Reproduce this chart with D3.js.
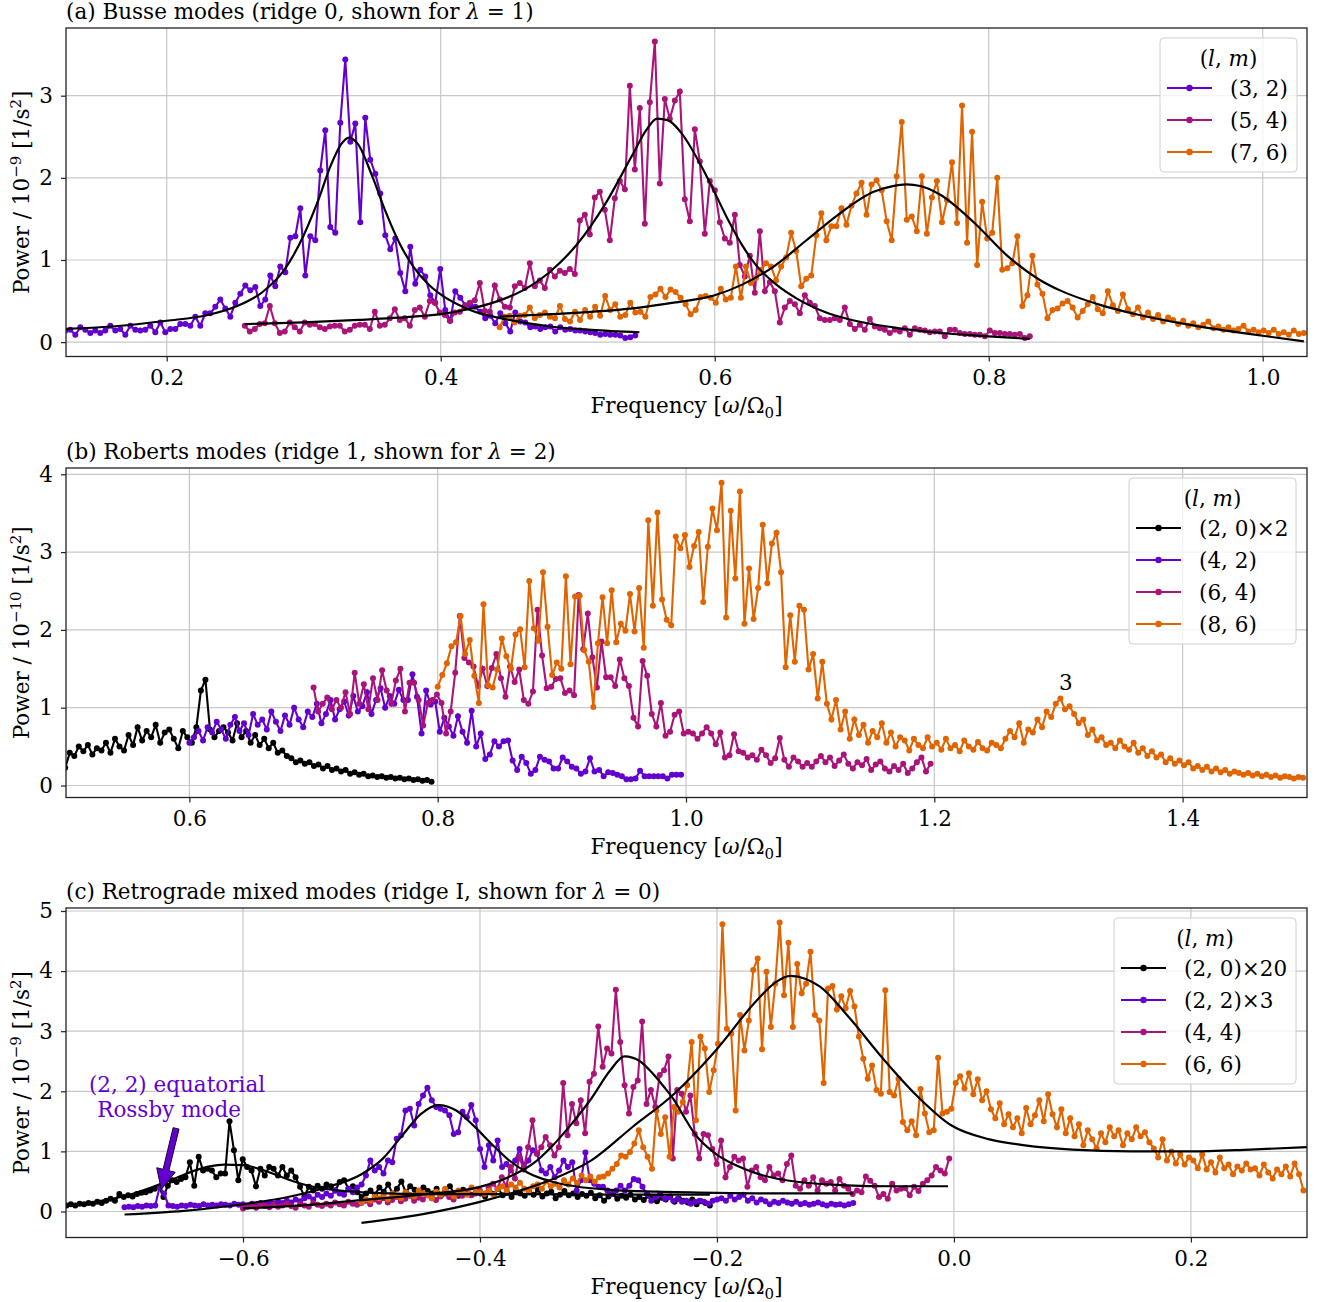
<!DOCTYPE html>
<html lang="en">
<head>
<meta charset="UTF-8">
<title>Mode power spectra</title>
<script src="https://d3js.org/d3.v7.min.js"></script>
<style>
  body { margin: 0; background: #fff; }
  svg { font-family: "DejaVu Serif", serif; }
  .mi { font-style: italic; }
</style>
</head>
<body>
<svg width="1323" height="1302"></svg>
<script>
const colPurple = "#6300cf", colMagenta = "#aa1479", colOrange = "#e06400", colBlack = "#000000";
const fs = 21.5, fsSmall = 15;

// ---------- panel (a) Busse modes ----------
const ticksXA = [0.2, 0.4, 0.6, 0.8, 1.0];
const ticksYA = [0, 1, 2, 3];
const rangeA32 = [0.126, 0.542];
const powA32 = [0.14,0.15,0.09,0.18,0.15,0.11,0.14,0.11,0.14,0.20,0.14,0.16,0.09,0.20,0.15,0.14,0.15,0.20,0.12,0.24,
  0.12,0.16,0.16,0.22,0.22,0.20,0.31,0.20,0.35,0.35,0.43,0.52,0.41,0.31,0.48,0.59,0.69,0.63,0.67,0.44,
  0.52,0.81,0.68,0.92,0.85,1.27,1.29,1.63,0.81,1.29,1.24,2.09,2.58,1.40,1.33,2.67,3.44,2.44,2.66,1.46,
  2.73,2.22,2.05,1.81,1.30,1.13,1.26,0.84,0.62,1.16,0.71,0.88,0.80,0.57,0.48,0.89,0.39,0.26,0.62,0.54,
  0.45,0.45,0.43,0.37,0.29,0.32,0.23,0.35,0.23,0.13,0.36,0.25,0.24,0.18,0.19,0.16,0.18,0.19,0.13,0.18,
  0.15,0.16,0.14,0.14,0.13,0.12,0.11,0.09,0.10,0.09,0.09,0.08,0.05,0.06,0.08];
const rangeA54 = [0.257, 0.830];
const powA54 = [0.20,0.13,0.16,0.22,0.23,0.44,0.23,0.11,0.13,0.24,0.18,0.13,0.24,0.21,0.22,0.18,0.16,0.19,0.20,0.20,
  0.13,0.15,0.20,0.21,0.21,0.16,0.37,0.20,0.21,0.29,0.40,0.27,0.29,0.20,0.39,0.42,0.31,0.50,0.48,0.36,
  0.33,0.26,0.36,0.37,0.44,0.48,0.51,0.72,
  0.38,0.37,0.69,0.52,0.43,0.42,0.68,0.72,0.66,0.96,0.68,0.75,0.66,0.88,0.80,0.87,0.84,0.89,0.83,1.48,
  1.55,1.31,1.76,1.83,1.61,1.24,1.75,1.96,1.86,3.12,2.10,2.85,1.44,2.92,3.66,1.93,2.96,2.72,2.94,3.05,
  1.74,1.47,2.59,2.20,1.32,1.96,1.85,1.46,1.26,1.21,1.55,0.94,0.80,1.05,0.60,1.35,0.62,0.73,0.62,0.24,
  0.42,0.50,0.46,0.35,0.57,0.48,0.44,0.29,0.27,0.27,0.29,0.27,0.42,0.22,0.16,0.21,
  0.15,0.28,0.19,0.17,0.15,0.11,0.15,0.13,0.17,0.09,0.17,0.15,0.14,0.12,0.13,0.13,0.07,0.15,0.15,0.11,
  0.10,0.10,0.09,0.09,0.07,0.14,0.11,0.11,0.10,0.10,0.09,0.10,0.05,0.07];
const rangeA76 = [0.443, 1.030];
const powA76 = [0.18,0.31,0.32,0.24,0.32,0.33,0.42,0.29,0.33,0.36,0.31,0.29,0.44,0.28,0.25,0.37,0.27,0.39,0.31,0.43,
  0.32,0.56,0.39,0.46,0.31,0.33,0.48,0.36,0.37,0.31,0.55,0.58,0.65,0.55,0.64,0.61,0.54,0.46,0.34,0.39,
  0.55,0.56,0.54,0.48,0.65,0.52,0.54,0.92,0.54,0.92,0.72,0.78,0.88,0.96,0.92,0.75,0.92,1.03,1.33,1.11,
  0.68,0.77,0.81,1.30,1.57,1.24,1.41,1.41,1.63,1.43,1.66,1.81,1.94,
  1.55,1.92,1.97,1.85,1.47,1.24,2.02,2.68,1.49,1.53,1.35,2.02,1.32,1.76,1.96,1.46,1.73,2.19,1.45,2.88,
  1.21,2.56,0.94,1.71,1.26,1.33,2.00,0.88,0.90,0.96,1.29,0.44,0.57,1.05,0.70,0.59,0.29,0.39,0.41,0.47,
  0.50,0.42,0.30,0.38,0.46,0.55,0.40,0.35,0.62,0.45,0.38,0.58,0.40,0.34,0.42,0.30,0.36,0.28,0.33,0.25,
  0.30,0.27,0.22,0.26,0.20,0.23,0.18,0.21,0.25,0.17,0.19,0.15,0.18,0.14,0.16,0.20,0.13,0.15,0.12,0.14,
  0.11,0.15,0.10,0.12,0.09,0.14,0.10,0.11];
const fitA32 = [[0.126,0.16],[0.16,0.19],[0.20,0.26],[0.23,0.33],[0.25,0.43],[0.27,0.61],[0.285,0.86],[0.30,1.30],
  [0.31,1.70],[0.32,2.16],[0.327,2.40],[0.333,2.49],[0.34,2.40],[0.35,2.02],[0.36,1.58],[0.37,1.20],[0.38,0.92],
  [0.39,0.72],[0.40,0.58],[0.42,0.40],[0.45,0.27],[0.48,0.19],[0.51,0.15],[0.545,0.12]];
const fitA54 = [[0.257,0.22],[0.30,0.24],[0.34,0.27],[0.38,0.31],[0.40,0.34],[0.42,0.40],[0.44,0.49],[0.46,0.63],
  [0.48,0.86],[0.50,1.20],[0.52,1.68],[0.54,2.28],[0.55,2.58],[0.558,2.72],[0.566,2.70],[0.575,2.56],[0.59,2.15],
  [0.60,1.82],[0.61,1.48],[0.62,1.18],[0.63,0.94],[0.645,0.70],[0.66,0.53],[0.68,0.37],[0.70,0.27],[0.73,0.18],
  [0.76,0.12],[0.80,0.07],[0.83,0.04]];
const fitA76 = [[0.443,0.31],[0.48,0.34],[0.52,0.38],[0.545,0.42],[0.57,0.48],[0.60,0.57],[0.62,0.70],[0.643,0.92],
  [0.667,1.24],[0.69,1.55],[0.716,1.83],[0.73,1.90],[0.74,1.92],[0.75,1.90],[0.764,1.80],[0.789,1.46],[0.813,1.06],
  [0.837,0.76],[0.852,0.63],[0.88,0.46],[0.91,0.33],[0.95,0.20],[0.99,0.10],[1.03,0.01]];

// ---------- panel (b) Roberts modes ----------
const ticksXB = [0.6, 0.8, 1.0, 1.2, 1.4];
const ticksYB = [0, 1, 2, 3, 4];
const rangeB20 = [0.500, 0.795];
const powB20 = [0.23,0.42,0.38,0.50,0.44,0.52,0.40,0.48,0.45,0.55,0.42,0.60,0.50,0.45,
  0.65,0.52,0.75,0.58,0.70,0.62,0.78,0.55,0.68,0.72,0.60,0.48,0.70,0.62,
  0.55,0.75,1.22,1.36,0.72,0.62,0.70,0.75,0.68,0.58,0.80,0.62,0.70,0.55,
  0.65,0.52,0.60,0.48,0.55,0.42,0.45,0.38,0.35,0.30,0.32,0.28,0.30,0.25,
  0.27,0.22,0.25,0.20,0.22,0.18,0.20,0.15,0.17,0.14,0.15,0.12,0.13,0.11,
  0.12,0.10,0.11,0.09,0.10,0.08,0.09,0.07,0.08,0.06,0.07,0.05];
const rangeB42 = [0.600, 0.996];
const powB42 = [0.55,0.62,0.70,0.58,0.75,0.68,0.82,0.72,0.60,0.78,0.88,0.70,0.80,0.65,0.92,0.78,0.85,0.72,0.95,0.82,
  0.70,0.90,0.78,1.00,0.85,0.75,0.95,0.88,1.05,0.80,0.92,1.10,0.85,0.98,1.08,0.90,1.15,0.95,1.02,1.20,
  0.92,1.10,1.25,1.00,1.15,1.05,
  1.23,1.10,1.10,1.43,1.14,0.67,1.22,1.04,1.08,0.69,0.87,0.76,0.64,0.89,0.69,0.55,0.96,0.50,0.67,0.34,
  0.40,0.57,0.50,0.57,0.58,0.32,0.20,0.37,0.29,0.15,0.20,0.37,0.33,0.31,0.22,0.22,0.36,0.31,0.24,0.22,
  0.15,0.18,0.35,0.18,0.20,0.12,0.17,0.16,0.14,0.12,0.08,0.08,0.09,0.19,0.12,0.12,0.12,0.12,0.12,0.09,
  0.14,0.14,0.14];
const rangeB64 = [0.700, 1.197];
const powB64 = [1.26,0.95,1.05,1.13,0.98,1.10,1.00,1.20,0.92,1.45,1.05,1.30,0.98,1.38,1.10,1.48,1.22,1.05,1.35,
  1.50,0.95,1.32,1.32,1.10,0.77,1.06,1.10,
  1.17,1.06,0.67,0.95,1.45,2.18,1.64,1.58,1.53,1.28,1.50,1.28,1.51,1.69,1.38,1.14,1.53,1.33,1.49,1.10,
  1.05,1.21,2.26,1.67,1.25,1.27,1.37,1.38,1.19,1.22,1.16,2.45,1.75,2.21,1.65,1.26,1.85,1.39,1.39,1.28,
  1.62,1.38,1.28,0.87,0.76,1.60,1.41,0.92,0.76,1.06,0.64,0.69,0.91,0.95,0.67,0.69,0.67,0.60,0.67,0.75,
  0.67,0.53,0.68,0.36,0.39,0.66,0.44,0.42,0.36,0.39,0.33,0.46,0.39,0.29,0.35,0.61,0.33,0.24,0.36,0.31,
  0.24,0.29,0.24,0.31,0.38,
  0.30,0.36,0.25,0.32,0.40,0.28,0.22,0.30,0.26,0.34,0.20,0.27,0.31,0.22,0.18,0.25,0.20,0.28,0.16,0.22,
  0.30,0.36,0.18,0.28];
const rangeB86 = [0.800, 1.497];
const powB86 = [1.27,1.42,1.57,1.79,1.84,2.18,1.69,1.87,1.41,1.06,2.33,1.29,1.26,1.49,1.89,1.66,1.50,1.94,2.01,1.52,
  2.63,2.02,1.86,2.74,2.04,1.42,1.58,1.50,2.69,1.56,2.43,2.44,1.74,1.59,1.01,1.83,2.42,1.83,2.51,1.84,
  2.08,1.99,2.46,1.98,2.54,1.77,3.41,2.31,3.51,2.39,2.13,2.06,3.20,3.05,3.22,2.81,3.08,3.26,2.36,3.07,
  3.56,3.28,3.89,2.16,3.53,2.66,3.78,2.08,2.79,2.14,2.54,3.35,2.60,3.11,3.25,2.74,1.52,2.19,1.59,2.31,
  2.26,1.49,1.69,1.12,1.59,
  1.05,0.85,1.10,0.72,0.95,0.60,0.85,0.65,0.78,0.55,0.70,
  0.62,0.80,0.55,0.68,0.50,0.62,0.58,0.45,0.60,0.52,0.48,0.62,0.50,
  0.55,0.46,0.60,0.48,0.52,0.44,0.58,0.50,0.46,0.56,0.48,0.45,0.55,
  0.52,0.48,0.60,0.70,0.62,0.80,0.55,0.72,0.68,0.85,0.75,0.95,0.88,1.05,
  1.12,0.98,1.02,0.92,0.80,0.85,0.65,0.72,0.58,0.62,0.52,0.55,0.48,
  0.58,0.50,0.46,0.55,0.42,0.48,0.38,0.44,0.36,0.40,0.30,0.35,0.28,0.32,
  0.26,0.30,0.22,0.25,0.20,0.24,0.18,0.22,0.17,0.20,0.15,0.18,0.16,0.14,
  0.16,0.13,0.15,0.12,0.14,0.11,0.13,0.10,0.12,0.11,0.09,0.11,0.10];

// ---------- panel (c) retrograde mixed modes ----------
const ticksXC = [-0.6, -0.4, -0.2, 0.0, 0.2];
const ticksYC = [0, 1, 2, 3, 4, 5];
const rangeC20 = [-0.749, -0.206];
const powC20 = [0.10,0.12,0.10,0.13,0.12,0.14,0.13,0.16,0.14,0.18,0.21,0.18,0.29,0.24,0.27,0.25,0.29,0.31,0.32,0.35,
  0.38,0.41,0.24,0.43,0.52,0.49,0.54,0.57,0.82,0.43,0.91,0.68,0.71,0.68,0.57,0.63,0.63,1.50,1.02,0.52,
  0.87,0.74,0.68,0.42,0.71,0.60,0.74,0.71,0.60,0.74,0.60,0.68,0.57,0.41,0.25,0.41,0.35,0.43,0.38,0.45,
  0.42,0.35,0.49,0.52,0.38,0.42,0.32,0.24,
  0.30,0.35,0.28,0.40,0.33,0.45,0.30,0.38,0.50,0.32,0.42,0.36,0.28,0.40,0.34,0.30,0.38,0.27,0.35,0.42,
  0.30,0.26,0.36,0.32,0.28,0.35,0.30,0.25,0.33,0.29,0.38,0.27,0.31,0.24,0.34,0.30,0.26,0.32,0.28,0.36,
  0.25,0.30,0.33,0.22,0.28,0.34,0.27,0.30,0.24,0.29,0.26,0.31,0.22,0.27,0.18,0.25,0.29,0.21,0.26,0.23,
  0.28,0.20,0.24,0.19,0.26,0.22,0.17,0.23,0.20,0.25,0.16,0.21,0.18,0.15,0.20,0.12,0.17,0.14,0.10];
const rangeC22 = [-0.700, -0.085];
const powC22 = [0.07,0.08,0.07,0.09,0.08,0.10,0.09,0.10,0.41,0.30,0.10,0.09,0.08,0.10,0.09,0.11,0.10,0.09,0.12,0.10,
  0.11,0.10,0.12,0.11,0.10,0.13,0.11,
  0.12,0.10,0.13,0.11,0.14,0.12,0.15,0.13,0.16,0.14,0.18,0.15,0.20,0.17,0.22,0.25,0.20,0.28,0.24,0.30,
  0.26,0.35,0.30,0.28,0.38,0.32,0.40,
  0.45,0.60,0.85,0.68,0.74,0.63,0.85,0.82,1.21,1.27,1.68,1.71,1.43,1.79,1.93,2.06,1.85,1.74,1.71,1.68,
  1.60,1.29,1.32,1.66,1.57,1.77,1.52,
  1.04,0.74,1.10,0.85,1.18,0.74,0.79,0.68,0.85,1.04,0.74,0.85,1.02,0.96,0.68,0.63,0.74,0.57,0.68,0.85,
  0.74,0.82,0.35,0.52,0.98,0.52,0.46,
  0.41,0.41,0.35,0.29,0.35,0.43,0.35,0.43,0.54,0.52,0.41,0.29,0.18,0.24,0.29,0.21,0.24,0.18,0.21,0.16,
  0.18,0.13,0.16,0.18,0.16,0.13,0.18,
  0.20,0.22,0.18,0.26,0.20,0.24,0.28,0.18,0.22,0.15,0.20,0.17,0.12,0.16,0.14,0.18,0.15,0.13,0.16,0.12,
  0.14,0.11,0.13,0.15,0.12,0.10,0.13,0.11,0.12,0.10,0.12,0.14];
const rangeC44 = [-0.600, -0.004];
const powC44 = [0.05,0.08,0.10,0.06,0.12,0.09,0.07,0.11,0.08,0.10,0.13,0.09,0.06,0.12,0.10,0.08,0.14,0.11,0.09,0.13,
  0.10,0.15,0.12,0.10,0.16,0.13,0.11,
  0.14,0.18,0.12,0.20,0.16,0.22,0.15,0.19,0.24,0.17,0.21,0.26,0.18,0.23,0.20,0.27,0.22,0.19,0.25,0.30,
  0.24,0.20,0.28,0.26,0.32,0.27,0.30,
  0.35,0.29,0.40,0.46,0.38,0.57,0.41,0.74,0.55,0.91,0.70,1.07,1.52,0.96,1.07,1.24,1.10,0.93,1.07,2.14,
  1.27,1.79,1.47,1.85,1.30,2.16,2.29,
  3.08,2.41,2.71,2.63,3.69,2.82,2.10,1.63,2.07,2.18,3.16,1.79,2.02,1.74,2.27,2.35,2.58,0.88,2.02,1.96,
  1.66,1.93,1.29,0.88,1.29,1.27,1.04,
  0.79,1.18,0.57,0.74,0.91,0.85,0.88,0.41,0.68,0.74,0.57,0.52,0.74,0.60,0.63,0.52,0.79,0.93,0.43,0.38,
  0.52,0.43,0.57,0.35,0.52,0.46,0.49,
  0.35,0.54,0.43,0.38,0.29,0.35,0.32,0.58,0.51,0.43,0.24,0.29,0.21,0.46,0.35,0.38,0.39,0.27,0.41,0.34,
  0.46,0.52,0.60,0.74,0.68,0.63,0.88];
const rangeC66 = [-0.500, 0.295];
const powC66 = [0.15,0.20,0.18,0.25,0.22,0.28,0.20,0.30,0.25,0.22,0.32,0.28,0.25,0.35,0.30,0.27,0.22,0.33,0.28,0.38,
  0.30,0.25,0.35,0.32,0.28,0.40,0.33,
  0.32,0.30,0.35,0.28,0.38,0.42,0.35,0.45,0.40,0.48,0.38,0.33,0.42,0.45,0.38,0.50,0.42,0.46,0.40,0.52,
  0.45,0.55,0.48,0.60,0.52,0.58,0.50,
  0.57,0.58,0.63,0.71,0.79,0.93,0.91,0.99,1.13,1.35,1.07,0.91,0.71,1.68,1.29,1.57,0.91,1.74,1.66,1.82,
  2.10,2.82,1.52,2.91,2.71,1.99,2.35,
  2.79,4.78,3.04,2.96,1.68,3.27,2.68,3.18,4.02,4.21,2.70,3.99,3.07,3.79,4.81,3.60,4.47,3.07,4.12,3.63,
  3.79,4.32,3.27,3.18,2.14,3.71,3.75,
  3.36,3.58,3.38,3.67,3.41,2.91,2.54,2.21,2.43,2.02,1.96,3.68,1.99,1.93,2.21,1.49,1.35,1.50,1.27,2.04,
  1.63,1.32,1.35,2.56,1.63,1.66,1.71,
  2.14,2.25,2.05,2.30,1.95,2.20,1.85,2.00,1.70,1.55,1.80,1.45,1.62,1.40,
  1.55,1.30,1.72,1.45,1.60,1.85,1.50,1.95,1.62,1.40,1.70,1.30,1.55,
  1.25,1.45,1.10,1.35,1.20,1.05,1.30,1.15,1.40,1.25,1.35,1.10,1.30,1.20,
  1.40,1.25,1.32,1.15,1.05,0.90,1.20,0.85,1.00,0.80,0.95,0.78,0.90,
  0.85,0.72,0.95,0.70,0.82,0.65,0.90,0.72,0.78,0.62,0.75,0.68,0.80,0.70,
  0.72,0.60,0.78,0.65,0.55,0.70,0.62,0.75,0.58,0.80,0.62,0.35];
const fitC20 = [[-0.749,0.09],[-0.725,0.16],[-0.697,0.27],[-0.669,0.46],[-0.655,0.57],[-0.641,0.68],[-0.628,0.75],
  [-0.616,0.78],[-0.60,0.77],[-0.585,0.70],[-0.571,0.60],[-0.557,0.50],[-0.543,0.42],[-0.52,0.35],[-0.49,0.31],
  [-0.44,0.29],[-0.36,0.29],[-0.28,0.28],[-0.206,0.28]];
const fitC22 = [[-0.70,-0.05],[-0.65,0.01],[-0.60,0.12],[-0.56,0.25],[-0.53,0.40],[-0.50,0.62],[-0.482,0.88],
  [-0.465,1.28],[-0.45,1.62],[-0.435,1.77],[-0.42,1.68],[-0.405,1.42],[-0.39,1.12],[-0.376,0.86],[-0.36,0.65],
  [-0.34,0.50],[-0.32,0.42],[-0.29,0.36],[-0.25,0.33],[-0.20,0.31],[-0.15,0.30],[-0.085,0.30]];
const fitC44 = [[-0.60,0.05],[-0.55,0.10],[-0.50,0.19],[-0.45,0.28],[-0.40,0.41],[-0.376,0.57],[-0.355,0.80],
  [-0.34,1.07],[-0.323,1.45],[-0.306,1.88],[-0.29,2.35],[-0.278,2.58],[-0.265,2.50],[-0.254,2.29],[-0.245,2.08],
  [-0.236,1.85],[-0.227,1.55],[-0.219,1.30],[-0.201,0.96],[-0.183,0.76],[-0.166,0.63],[-0.131,0.49],[-0.096,0.44],
  [-0.05,0.42],[-0.005,0.42]];
const fitC66 = [[-0.50,-0.19],[-0.447,-0.04],[-0.40,0.16],[-0.376,0.29],[-0.341,0.52],[-0.306,0.85],[-0.271,1.41],
  [-0.236,1.96],[-0.201,2.68],[-0.166,3.52],[-0.15,3.82],[-0.138,3.92],[-0.125,3.87],[-0.113,3.74],[-0.089,3.24],
  [-0.061,2.57],[-0.033,1.96],[-0.002,1.43],[0.03,1.20],[0.06,1.10],[0.10,1.03],[0.15,1.00],[0.20,1.00],
  [0.25,1.03],[0.298,1.07]];

const svg = d3.select("svg");
const left = 66, right = 1307;

// turn a value list + frequency range into [f, p] points
function points(range, vals) {
  const step = (range[1] - range[0]) / (vals.length - 1);
  return vals.map((v, i) => [range[0] + i * step, v]);
}

function drawPanel(p) {
  const x = d3.scaleLinear().domain(p.xDomain).range([left, right]);
  const y = d3.scaleLinear().domain(p.yDomain).range([p.bottom, p.top]);
  const g = svg.append("g");

  svg.append("clipPath").attr("id", "clip" + p.id)
    .append("rect").attr("x", left).attr("y", p.top)
    .attr("width", right - left).attr("height", p.bottom - p.top);

  // grid
  g.append("g").selectAll("line").data(p.xTicks).join("line")
    .attr("x1", d => x(d)).attr("x2", d => x(d))
    .attr("y1", p.top).attr("y2", p.bottom)
    .attr("stroke", "#c8c8c8").attr("stroke-width", 1.2);
  g.append("g").selectAll("line").data(p.yTicks).join("line")
    .attr("x1", left).attr("x2", right)
    .attr("y1", d => y(d)).attr("y2", d => y(d))
    .attr("stroke", "#c8c8c8").attr("stroke-width", 1.2);

  const plot = g.append("g").attr("clip-path", `url(#clip${p.id})`);
  const line = d3.line().x(d => x(d[0])).y(d => y(d[1]));
  const smooth = d3.line().curve(d3.curveMonotoneX).x(d => x(d[0])).y(d => y(d[1]));

  p.series.forEach(s => {
    const pts = points(s.range, s.values);
    plot.append("path").datum(pts).attr("d", line)
      .attr("fill", "none").attr("stroke", s.color).attr("stroke-width", 2.1);
    plot.append("g").selectAll("circle").data(pts).join("circle")
      .attr("cx", d => x(d[0])).attr("cy", d => y(d[1]))
      .attr("r", 3).attr("fill", s.color);
  });
  p.fits.forEach(f => {
    plot.append("path").datum(f).attr("d", smooth)
      .attr("fill", "none").attr("stroke", "#000").attr("stroke-width", 2.2);
  });

  // axes
  const gx = g.append("g").attr("transform", `translate(0,${p.bottom})`)
    .call(d3.axisBottom(x).tickValues(p.xTicks).tickFormat(d3.format(".1f")).tickSize(5).tickPadding(8));
  const gy = g.append("g").attr("transform", `translate(${left},0)`)
    .call(d3.axisLeft(y).tickValues(p.yTicks).tickFormat(d3.format("d")).tickSize(5).tickPadding(8));
  [gx, gy].forEach(a => {
    a.select(".domain").remove();
    a.attr("font-size", fs).attr("font-family", null);
    a.selectAll(".tick line").attr("stroke", "#222").attr("stroke-width", 1.2);
    a.selectAll(".tick text").attr("fill", "#000");
  });
  g.append("rect").attr("x", left).attr("y", p.top)
    .attr("width", right - left).attr("height", p.bottom - p.top)
    .attr("fill", "none").attr("stroke", "#222").attr("stroke-width", 1.3);

  // title
  const t = g.append("text").attr("x", left).attr("y", p.top - 9.5).attr("font-size", fs);
  t.append("tspan").text(p.title);
  t.append("tspan").attr("class", "mi").text("λ");
  t.append("tspan").text(" = " + p.lambda + ")");

  // x label
  const xl = g.append("text").attr("x", (left + right) / 2).attr("y", p.bottom + 56)
    .attr("text-anchor", "middle").attr("font-size", fs);
  xl.append("tspan").text("Frequency [");
  xl.append("tspan").attr("class", "mi").text("ω");
  xl.append("tspan").text("/Ω");
  xl.append("tspan").attr("dy", 5).attr("font-size", fsSmall).text("0");
  xl.append("tspan").attr("dy", -5).text("]");

  // y label
  const yl = g.append("text")
    .attr("transform", `translate(29,${(p.top + p.bottom) / 2}) rotate(-90)`)
    .attr("text-anchor", "middle").attr("font-size", fs);
  yl.append("tspan").text("Power / 10");
  yl.append("tspan").attr("dy", -8.5).attr("font-size", fsSmall).text("−" + p.exp);
  yl.append("tspan").attr("dy", 8.5).text(" [1/s");
  yl.append("tspan").attr("dy", -8.5).attr("font-size", fsSmall).text("2");
  yl.append("tspan").attr("dy", 8.5).text("]");

  // legend
  const n = p.series.length;
  const lg = g.append("g").attr("transform", `translate(${p.legendX},${p.top + 10})`);
  lg.append("rect").attr("width", p.legendW).attr("height", 70 + 32 * (n - 1))
    .attr("rx", 4).attr("fill", "#fff").attr("fill-opacity", 0.8)
    .attr("stroke", "#d0d0d0").attr("stroke-width", 1);
  const lt = lg.append("text").attr("x", p.legendW / 2).attr("y", 20).attr("dy", "0.35em")
    .attr("text-anchor", "middle").attr("font-size", fs);
  lt.append("tspan").text("(");
  lt.append("tspan").attr("class", "mi").text("l");
  lt.append("tspan").text(", ");
  lt.append("tspan").attr("class", "mi").text("m");
  lt.append("tspan").text(")");
  p.series.forEach((s, i) => {
    const ry = 50 + 32 * i;
    lg.append("line").attr("x1", 7).attr("x2", 52).attr("y1", ry).attr("y2", ry)
      .attr("stroke", s.color).attr("stroke-width", 2.1);
    lg.append("circle").attr("cx", 29.5).attr("cy", ry).attr("r", 3.2).attr("fill", s.color);
    lg.append("text").attr("x", 70).attr("y", ry).attr("dy", "0.35em")
      .attr("font-size", fs).text(s.label);
  });

  return { x, y, g };
}

drawPanel({
  id: "a", top: 28, bottom: 356.5, xDomain: [0.1265, 1.0323], yDomain: [-0.175, 3.824],
  xTicks: ticksXA, yTicks: ticksYA, exp: "9", lambda: "1",
  title: "(a) Busse modes (ridge 0, shown for ",
  legendX: 1160, legendW: 137,
  series: [
    { label: "(3, 2)", color: colPurple, range: rangeA32, values: powA32 },
    { label: "(5, 4)", color: colMagenta, range: rangeA54, values: powA54 },
    { label: "(7, 6)", color: colOrange, range: rangeA76, values: powA76 }
  ],
  fits: [fitA32, fitA54, fitA76]
});

const pb = drawPanel({
  id: "b", top: 468, bottom: 797.5, xDomain: [0.5006, 1.5002], yDomain: [-0.154, 4.081],
  xTicks: ticksXB, yTicks: ticksYB, exp: "10", lambda: "2",
  title: "(b) Roberts modes (ridge 1, shown for ",
  legendX: 1129, legendW: 167,
  series: [
    { label: "(2, 0)×2", color: colBlack, range: rangeB20, values: powB20 },
    { label: "(4, 2)", color: colPurple, range: rangeB42, values: powB42 },
    { label: "(6, 4)", color: colMagenta, range: rangeB64, values: powB64 },
    { label: "(8, 6)", color: colOrange, range: rangeB86, values: powB86 }
  ],
  fits: []
});
pb.g.append("text").attr("x", pb.x(1.306)).attr("y", pb.y(1.23))
  .attr("text-anchor", "middle").attr("font-size", fs).text("3");

const pc = drawPanel({
  id: "c", top: 908, bottom: 1237.5, xDomain: [-0.7494, 0.298], yDomain: [-0.433, 5.05],
  xTicks: ticksXC, yTicks: ticksYC, exp: "9", lambda: "0",
  title: "(c) Retrograde mixed modes (ridge I, shown for ",
  legendX: 1114, legendW: 182,
  series: [
    { label: "(2, 0)×20", color: colBlack, range: rangeC20, values: powC20 },
    { label: "(2, 2)×3", color: colPurple, range: rangeC22, values: powC22 },
    { label: "(4, 4)", color: colMagenta, range: rangeC44, values: powC44 },
    { label: "(6, 6)", color: colOrange, range: rangeC66, values: powC66 }
  ],
  fits: [fitC20, fitC22, fitC44, fitC66]
});

// equatorial Rossby mode annotation
pc.g.append("text").attr("x", pc.x(-0.6557)).attr("y", pc.y(1.98))
  .attr("text-anchor", "middle").attr("font-size", fs).attr("fill", colPurple).text("(2, 2) equatorial");
pc.g.append("text").attr("x", pc.x(-0.6624)).attr("y", pc.y(1.567))
  .attr("text-anchor", "middle").attr("font-size", fs).attr("fill", colPurple).text("Rossby mode");

const x0 = pc.x(-0.6565), y0 = pc.y(1.383), x1 = pc.x(-0.669), y1 = pc.y(0.367);
const L = Math.hypot(x1 - x0, y1 - y0), ux = (x1 - x0) / L, uy = (y1 - y0) / L;
const nx = -uy, ny = ux, sw = 3, hw = 9.5, hl = 20;
const bx = x1 - ux * hl, by = y1 - uy * hl;
const arrowPts = [
  [x0 + nx * sw, y0 + ny * sw], [bx + nx * sw, by + ny * sw], [bx + nx * hw, by + ny * hw], [x1, y1],
  [bx - nx * hw, by - ny * hw], [bx - nx * sw, by - ny * sw], [x0 - nx * sw, y0 - ny * sw]
];
pc.g.append("path").attr("d", "M" + arrowPts.map(d => d.join(",")).join("L") + "Z")
  .attr("fill", colPurple).attr("stroke", "#1a0033").attr("stroke-width", 1);
</script>
</body>
</html>
